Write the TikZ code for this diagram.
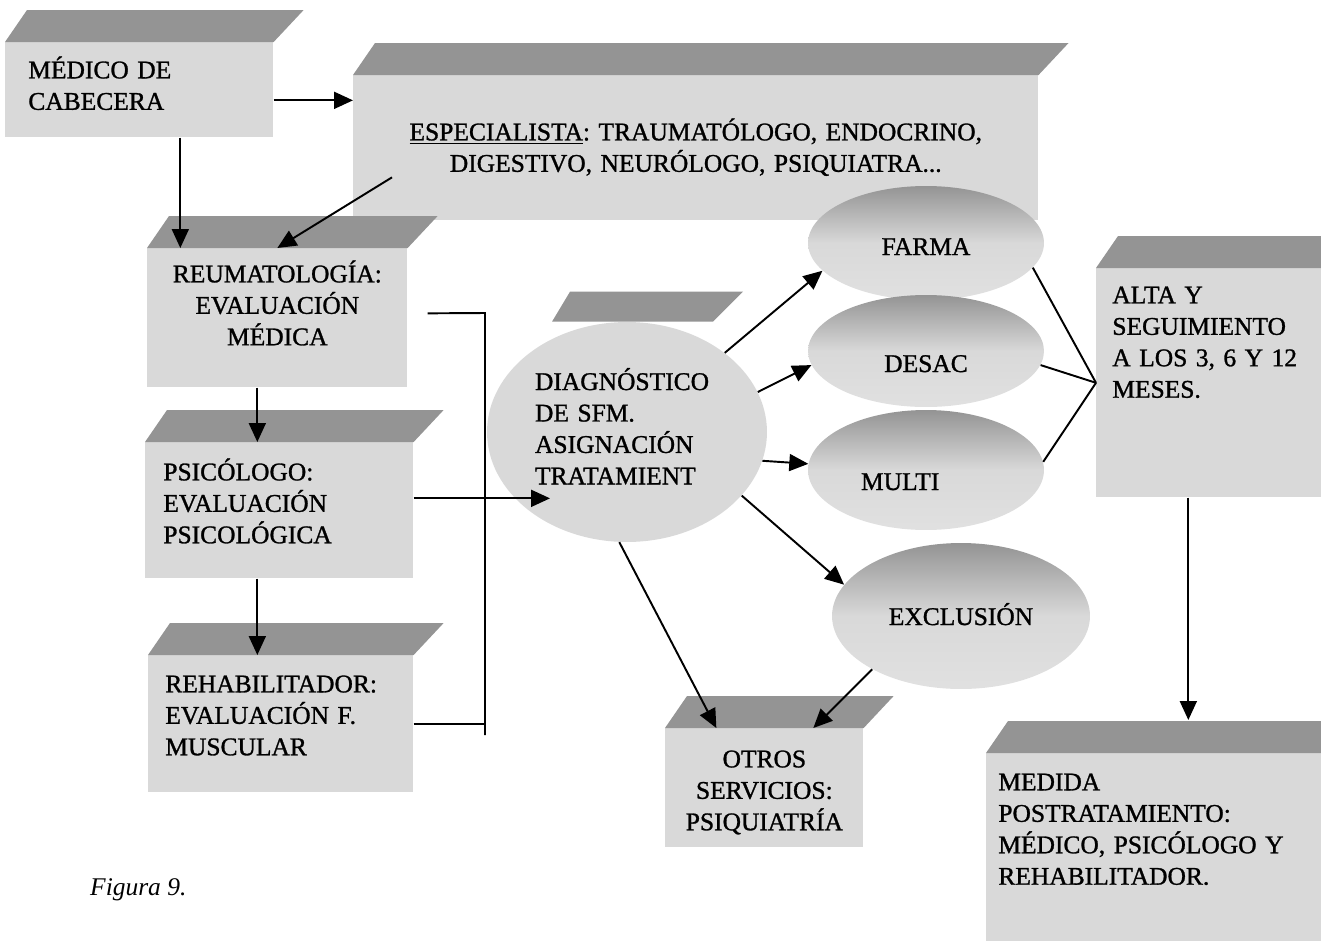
\documentclass[tikz,border=0pt]{standalone}
\usepackage{fontspec}
\setmainfont{Liberation Serif}
\newfontfamily\heavyserif{Liberation Serif}[FakeBold=1.1]
\usetikzlibrary{arrows.meta,shapes.geometric,calc}
\colorlet{facegray}{black!15}
\colorlet{bandgray}{black!42}
\tikzset{
	face/.style={
		rectangle,
		fill=facegray,
		inner ysep=0pt,
		anchor=north west,
		font=\heavyserif\fontsize{14.5}{17.9}\selectfont\frenchspacing,
	},
	oval/.style={
		ellipse,
		inner sep=0pt,
		top color=bandgray,
		bottom color=facegray!80,
		middle color=facegray,
		font=\heavyserif\fontsize{14.5}{17.9}\selectfont,
	},
	link/.style={
		-{Triangle[length=3.8mm,width=3.4mm]},
		line width=1.1pt,
	},
	bar/.style={
		line width=1.1pt,
	}
}
\newcommand{\topband}[1]{\fill[bandgray] (#1.north west) -- (#1.north east) -- ++(30,-32) -- ([shift={(22,-32)}]#1.north west) -- cycle;}

\begin{document}
\begin{tikzpicture}[x=0.02cm,y=-0.02cm]
\useasboundingbox (0,0) rectangle (1321,940);

\node[face,text width=4.44cm,inner xsep=0.46cm,text height=0.72cm,text depth=1.18cm,align=left] (medico) at (5,42) {MÉDICO DE\\CABECERA};
\node[face,text width=13.3cm,inner xsep=0.2cm,text height=1.3cm,text depth=1.6cm,align=center] (espec) at (353,75) {\underline{ESPECIALISTA}: TRAUMATÓLOGO, ENDOCRINO,\\DIGESTIVO, NEURÓLOGO, PSIQUIATRA...};
\node[face,text width=5cm,inner xsep=0.1cm,text height=0.68cm,text depth=2.1cm,align=center] (reuma) at (147,248) {REUMATOLOGÍA:\\EVALUACIÓN\\MÉDICA};
\node[face,text width=4.64cm,inner xsep=0.36cm,text height=0.76cm,text depth=1.96cm,align=left] (psic) at (145,442) {PSICÓLOGO:\\EVALUACIÓN\\PSICOLÓGICA};
\node[face,text width=4.62cm,inner xsep=0.34cm,text height=0.74cm,text depth=2cm,align=left] (rehab) at (148,655) {REHABILITADOR:\\EVALUACIÓN F.\\MUSCULAR};
\node[face,text width=3.86cm,inner xsep=0.32cm,text height=0.7cm,text depth=3.88cm,align=left] (alta) at (1096,268) {ALTA Y\\SEGUIMIENTO\\A LOS 3, 6 Y 12\\MESES.};
\node[face,text width=3.76cm,inner xsep=0.1cm,text height=0.78cm,text depth=1.6cm,align=center] (otros) at (665,728) {OTROS\\SERVICIOS:\\PSIQUIATRÍA};
\node[face,text width=6.42cm,inner xsep=0.24cm,text height=0.74cm,text depth=3.1cm,align=left] (medida) at (986,753) {MEDIDA\\POSTRATAMIENTO:\\MÉDICO, PSICÓLOGO Y\\REHABILITADOR.};
\foreach \b in {medico,espec,reuma,psic,rehab,alta,otros,medida}
  \topband{\b};

\node[face,ellipse,anchor=center,inner xsep=0pt,minimum width=5.6cm,minimum height=4.4cm,text width=3.68cm,text height=0.32cm,text depth=2cm,align=left] (diag) at (627,432) {DIAGNÓSTICO\\DE SFM.\\ASIGNACIÓN\\TRATAMIENT};
\fill[bandgray] ([xshift=-1.5cm]diag.north) -- ++(161,0) -- ++(30,-30) -- ++(-173,0) -- cycle;

\node[oval,minimum width=4.72cm,minimum height=2.28cm,text height=0.48cm,text depth=0pt] (farma) at (926,243) {FARMA};
\node[oval,minimum width=4.72cm,minimum height=2.24cm,text height=0.84cm,text depth=0pt] (desac) at (926,351) {DESAC};
\node[oval,minimum width=4.72cm,minimum height=2.4cm,text width=2.6cm,align=left,text height=0.8cm,text depth=0pt] (multi) at (926,470) {MULTI};
\node[oval,minimum width=5.16cm,minimum height=2.92cm,text height=0.36cm,text depth=0pt] (excl) at (961,616) {EXCLUSIÓN};

\node[anchor=base west,font=\fontsize{14.5}{17.9}\selectfont\itshape] (fig) at (84,895) {Figura 9.};

% connectors
\draw[link] ([yshift=-0.21cm]medico.east) coordinate (m1) -- (m1 -| espec.west);
\draw[link] ([xshift=0.82cm]medico.south) coordinate (m2) -- (m2 |- reuma.north);
\draw[link] ([shift={(39,29.5)}]espec.west) -- (reuma.north);
\draw[link] ([xshift=-0.4cm]reuma.south) coordinate (r1) -- (r1 |- psic.north);
\draw[link] ([xshift=-0.44cm]psic.south) coordinate (p1) -- (p1 |- rehab.north);

\coordinate (brk) at (485,313);
\draw[bar] ([shift={(20,-4.5)}]reuma.east) -- (brk) -- ++(0,422);
\draw[bar] (rehab.east) -- (rehab.east -| brk);
\draw[link] ([yshift=0.24cm]psic.east) coordinate (p2) -- ($(p2 -| diag.text)+(15,0)$);

\draw[link] (diag.39) -- (farma.195);
\draw[link] (diag.17) -- (desac.187);
\draw[link] (diag.-12) -- (multi.177);
\draw[link] (diag.-29) -- (excl.165);
\draw[link] (diag.-94) -- ([xshift=-0.96cm]otros.north);
\draw[link] (excl.211) -- ([xshift=0.98cm]otros.north);

\draw[bar] (farma.-13) -- (alta.west);
\draw[bar] (desac.-7) -- (alta.west);
\draw[bar] (multi.4) -- (alta.west);
\draw[link] ([xshift=-0.41cm]alta.south) coordinate (a1) -- ($(a1 |- medida.north)+(0,-33)$);

\end{tikzpicture}
\end{document}
